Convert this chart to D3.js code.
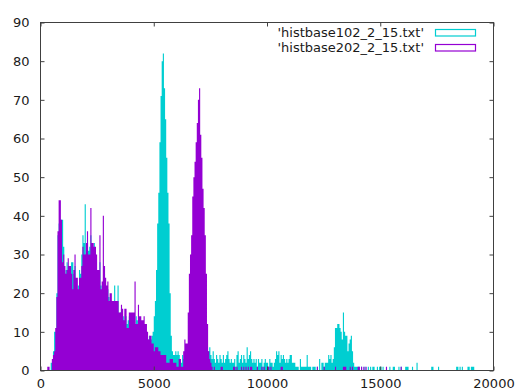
<!DOCTYPE html>
<html>
<head>
<meta charset="utf-8">
<script src="https://cdn.jsdelivr.net/npm/d3@7"></script>
<style>
  body { margin: 0; background: #fff; }
  text { font-family: "DejaVu Sans", sans-serif; }
</style>
</head>
<body>
<svg id="chart" width="516" height="390"></svg>
<script>
// Histogram bins are 50 units wide; each counts array starts at its *Start bin.
const binWidth = 50;

const cyanStart = 450;
const cyanCounts = [
  2, 2, 5, 10, 10, 20, 35, 38, 39, 39, 39, 32, 25, 26, 28, 25, 22, 25, 28, 28,
  25, 27, 22, 20, 22, 26, 25, 30, 35, 33, 43, 30, 33, 31, 32, 35, 30, 29, 33, 28,
  25, 24, 22, 28, 22, 20, 21, 25, 22, 20, 21, 19, 17, 18, 17, 18, 22, 18, 17, 22,
  14, 15, 16, 13, 14, 12, 14, 12, 13, 14, 13, 12, 13, 12, 11, 14, 13, 12, 11, 12,
  11, 10, 9, 10, 10, 9, 8, 9, 8, 9, 10, 14, 18, 26, 38, 46, 59, 71, 80, 82,
  73, 65, 55, 46, 38, 20, 9, 5, 4, 4, 5, 4, 5, 4, 3, 2, 4, 3, 2, 3,
  4, 3, 5, 4, 6, 5, 7, 6, 5, 7, 6, 5, 6, 4, 5, 4, 3, 4, 3, 5,
  6, 4, 3, 5, 3, 2, 4, 3, 2, 4, 3, 2, 4, 2, 3, 4, 5, 3, 2, 3,
  2, 2, 3, 1, 4, 5, 2, 3, 4, 2, 4, 3, 2, 6, 3, 4, 5, 3, 2, 3,
  2, 3, 1, 3, 2, 2, 3, 1, 2, 3, 2, 2, 1, 3, 2, 2, 1, 2, 3, 5,
  4, 5, 2, 4, 3, 4, 3, 2, 3, 2, 3, 4, 4, 2, 2, 2, 1, 1, 1, 0,
  3, 1, 1, 1, 1, 1, 4, 1, 1, 1, 0, 1, 1, 1, 0, 1, 0, 3, 0, 2,
  2, 1, 2, 2, 2, 4, 3, 4, 2, 3, 6, 11, 11, 12, 12, 11, 10, 8, 15, 10,
  9, 9, 5, 7, 8, 9, 5, 2, 1, 1, 1, 1
];
// Sparse bins beyond the dense range: [bin start, count]
const cyanTail = [
  [14050, 1], [14150, 1], [14300, 1], [14450, 1], [14550, 1], [14650, 1], [14700, 1],
  [14850, 1], [14950, 1], [15000, 1], [15100, 1], [15400, 1], [15550, 1], [15600, 1],
  [15800, 1], [15900, 1], [16100, 1], [16150, 1], [16200, 1], [16400, 1], [16600, 2],
  [17250, 1], [17300, 1], [17550, 1], [18350, 1], [18400, 1], [18500, 1], [18600, 1],
  [18850, 1], [18900, 1], [19000, 1], [19050, 1], [19100, 1]
];

const violetStart = 300;
const violetCounts = [
  1, 1, 0, 0, 3, 4, 5, 11, 19, 36, 44, 44, 39, 28, 30, 27, 25, 26, 29, 27,
  27, 25, 21, 26, 30, 24, 24, 21, 24, 24, 27, 32, 30, 30, 33, 36, 30, 30, 42, 33,
  33, 32, 32, 30, 26, 26, 35, 21, 23, 40, 27, 24, 22, 23, 18, 20, 20, 18, 18, 18,
  18, 18, 18, 15, 15, 17, 16, 13, 16, 16, 11, 11, 15, 15, 15, 15, 15, 23, 12, 12,
  17, 14, 14, 13, 13, 14, 12, 12, 10, 8, 9, 9, 7, 7, 5, 6, 6, 6, 5, 5,
  4, 4, 4, 4, 4, 2, 2, 2, 3, 3, 3, 2, 2, 2, 1, 1, 3, 3, 1, 1,
  5, 8, 7, 7, 15, 25, 30, 35, 45, 50, 54, 59, 64, 70, 73, 61, 55, 47, 42, 35,
  25, 12, 5, 3, 2
];
const violetTail = [
  [7550, 1], [7650, 1], [7950, 1], [8000, 1], [8500, 1], [8550, 1], [8650, 1],
  [8850, 1], [8950, 1], [9050, 1], [9150, 1], [9250, 1], [9300, 1], [9550, 1],
  [9750, 1], [9850, 1], [10000, 1], [10050, 1], [10150, 1], [10600, 1], [10650, 1],
  [12200, 1], [12500, 1], [13000, 1], [13350, 1], [13400, 1], [13450, 1], [13650, 1],
  [13750, 1], [14000, 1], [14050, 1], [14150, 1], [14250, 1], [14350, 1], [15250, 1],
  [15900, 1]
];

const xTicks = [0, 5000, 10000, 15000, 20000];
const yTicks = [0, 10, 20, 30, 40, 50, 60, 70, 80, 90];
const seriesNames = ["'histbase102_2_15.txt'", "'histbase202_2_15.txt'"];

// ---- drawing ----
const CYAN = "#00ced1";
const VIOLET = "#9400d3";
const INK = "#1a1a1a";
const FRAME = "#404040";

const svg = d3.select("#chart");
const x = d3.scaleLinear().domain([0, 20000]).range([40.5, 493.5]);
const y = d3.scaleLinear().domain([0, 90]).range([370.5, 22.5]);

// Merge dense counts and sparse tail into one gap-free run of bins
function toBins(start, counts, tail) {
  const map = new Map();
  counts.forEach((c, i) => map.set(start + i * binWidth, c));
  tail.forEach(([v, c]) => map.set(v, c));
  const last = d3.max(map.keys());
  const bins = d3.range(start, last + binWidth, binWidth).map(v => ({ v, c: map.get(v) || 0 }));
  bins.push({ v: last + binWidth, c: 0 });
  return bins;
}

const series = [
  { name: seriesNames[0], color: CYAN, bins: toBins(cyanStart, cyanCounts, cyanTail) },
  { name: seriesNames[1], color: VIOLET, bins: toBins(violetStart, violetCounts, violetTail) }
];

// Each series is one stepped outline, so neighbouring boxes merge without seams
const stepArea = d3.area()
  .curve(d3.curveStepAfter)
  .x(d => x(d.v))
  .y0(y(0))
  .y1(d => y(d.c));

series.forEach(s => {
  svg.append("path")
    .attr("d", stepArea(s.bins))
    .attr("fill", s.color);
});

// Axes with inward ticks, mirrored on top and right
function styleAxis(g) {
  g.select(".domain").remove();
  g.selectAll(".tick line").attr("stroke", FRAME);
  g.selectAll(".tick text").attr("fill", INK).style("font-size", "13px")
    .style("font-family", "'DejaVu Sans', sans-serif");
}

svg.append("g").attr("transform", `translate(0,${y(0)})`)
  .call(d3.axisBottom(x).tickValues(xTicks).tickSize(-4).tickPadding(8).tickFormat(d3.format("d")))
  .call(styleAxis);
svg.append("g").attr("transform", `translate(0,${y(90)})`)
  .call(d3.axisTop(x).tickValues(xTicks).tickSize(-4).tickFormat(""))
  .call(styleAxis);
svg.append("g").attr("transform", `translate(${x(0)},0)`)
  .call(d3.axisLeft(y).tickValues(yTicks).tickSize(-4).tickPadding(11).tickFormat(d3.format("d")))
  .call(styleAxis);
svg.append("g").attr("transform", `translate(${x(20000)},0)`)
  .call(d3.axisRight(y).tickValues(yTicks).tickSize(-4).tickFormat(""))
  .call(styleAxis);

svg.append("rect")
  .attr("x", x(0)).attr("y", y(90))
  .attr("width", x(20000) - x(0)).attr("height", y(0) - y(90))
  .attr("fill", "none").attr("stroke", FRAME).attr("stroke-width", 1);

// Legend
const legend = svg.append("g");
series.forEach((s, i) => {
  const cy = 32 + i * 15;
  legend.append("text")
    .attr("x", 424).attr("y", cy).attr("dy", "0.35em")
    .attr("text-anchor", "end")
    .attr("fill", INK).style("font-size", "13px")
    .text(s.name);
  legend.append("rect")
    .attr("x", 435.5).attr("y", cy - 2.5)
    .attr("width", 40).attr("height", 6.5)
    .attr("fill", "none").attr("stroke", s.color).attr("stroke-width", 1.2);
});
</script>
</body>
</html>
